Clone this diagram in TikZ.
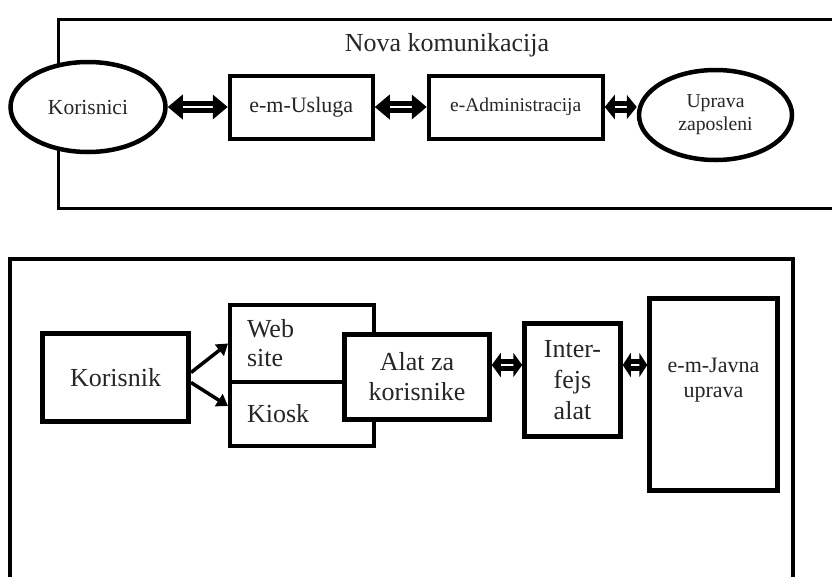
\documentclass[tikz,border=0pt]{standalone}
\usepackage{fontspec}
\setmainfont{Liberation Serif}
\usetikzlibrary{arrows.meta,positioning,shapes.geometric}

\begin{document}
\begin{tikzpicture}[x=1pt,y=-1pt,
    kutija/.style={draw,line width=4pt,fill=white,inner sep=0pt,align=center,text=black!85},
    elipsa/.style={ellipse,draw,line width=4.5pt,fill=white,inner sep=0pt,align=center,text=black!85},
    strelica/.style={line width=3.5pt,-{Triangle[length=11pt,width=14pt]}},
    dvostrelica/.style={line width=5pt,double=white,double distance=2pt,
                        {Triangle[length=#1,width=24pt]}-{Triangle[length=#1,width=24pt]}},
    dvostrelica/.default=10pt]
  \useasboundingbox (0,0) rectangle (832,576);
  \clip (0,0) rectangle (832,576);
  % gornji dio
  \draw[line width=3pt] (845,19) -| (58,208) -- (845,208);
  \node[font=\fontsize{26}{30}\selectfont,text=black!85] (naslov) at (447,45) {Nova komunikacija};
  \node[elipsa,minimum width=155pt,minimum height=90pt,font=\fontsize{21.5}{24}\selectfont] (kor) at (88,107) {Korisnici};
  \node[kutija,minimum width=143pt,minimum height=63pt,font=\fontsize{22}{25}\selectfont,right=60pt of kor] (usl) {e-m-Usluga};
  \node[kutija,minimum width=174pt,minimum height=63pt,font=\fontsize{19.5}{23}\selectfont,right=52pt of usl] (adm) {e-Administracija};
  \node[elipsa,minimum width=153pt,minimum height=90pt,font=\fontsize{19.7}{23}\selectfont,right=32pt of adm,yshift=-8pt] (upr) {Uprava\\zaposleni};
  \draw[dvostrelica=15pt] (kor.east |- usl.west) -- (usl.west);
  \draw[dvostrelica=15pt] (usl.east) -- (adm.west);
  \draw[dvostrelica] (adm.east) -- (adm.east -| upr.west);
  % donji dio
  \draw[line width=4pt] (10,590) |- (793,259) -- (793,590);
  \node[kutija,line width=5pt,minimum width=146pt,minimum height=88pt,font=\fontsize{26}{30}\selectfont] (korisnik) at (115.5,377.5) {Korisnik};
  \node[kutija,align=left,text width=110pt,inner xsep=17pt,minimum height=77pt,font=\fontsize{26}{29}\selectfont] (web) at (302,343.5) {Web\\site};
  \node[kutija,align=left,text width=110pt,inner xsep=17pt,minimum height=64pt,font=\fontsize{26}{29}\selectfont,below=-4pt of web] (kiosk) {Kiosk};
  \node[kutija,line width=4.5pt,minimum width=145pt,minimum height=85pt,font=\fontsize{26}{30}\selectfont] (alat) at (417,377) {Alat za\\korisnike};
  \node[kutija,line width=4.5pt,minimum width=96pt,minimum height=113pt,font=\fontsize{26}{31}\selectfont] (interfejs) at (572.5,380) {Inter-\\fejs\\alat};
  \node[kutija,line width=4.5pt,minimum width=128pt,minimum height=192pt,
        label={[font=\fontsize{22}{25}\selectfont,align=center,text=black!85,yshift=14pt]center:e-m-Javna\\uprava}] (javna) at (713.5,394.5) {};
  \draw[strelica] ([yshift=5pt]korisnik.east) -- (web.west);
  \draw[strelica] ([yshift=-5pt]korisnik.east) -- ([yshift=8pt]kiosk.west);
  \draw[dvostrelica=9pt] ([yshift=12pt]alat.east) -- ([yshift=12pt]alat.east -| interfejs.west);
  \draw[dvostrelica=8pt] ([yshift=15pt]interfejs.east) -- ([yshift=15pt]interfejs.east -| javna.west);
\end{tikzpicture}
\end{document}
